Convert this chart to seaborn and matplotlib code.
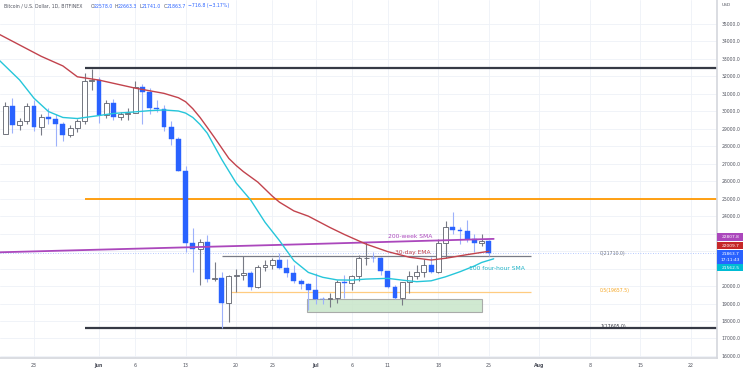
import numpy as np
import pandas as pd
import matplotlib
matplotlib.use("Agg")
import matplotlib.pyplot as plt
import matplotlib.dates as mdates
from matplotlib.patches import Rectangle
import seaborn as sns

# daily candles, BTC/USD Bitfinex
dates = pd.date_range("2022-05-19", "2022-07-25", freq="D")
opens = [28720, 30300, 29200, 29430, 30300, 29100, 29650, 29550, 29250, 28620, 29020, 29440, 31720,
         31790, 29800, 30460, 29700, 29860, 29910, 31370, 31130, 30200, 30110, 29080, 28420, 26580,
         22470, 22130, 22500, 20380, 20450, 19010, 20560, 20650, 20720, 19970, 21110, 21230, 21500,
         21030, 20730, 20280, 20100,
         19780, 19270, 19240, 19300, 20230, 20190, 20550, 21600, 21630, 21600, 20850, 19970, 19320,
         20210, 20570, 20830, 21190, 20780, 22450, 23390, 23230, 23160, 22700, 22460, 22578]
highs = [30550, 30780, 29630, 30480, 30670, 29830, 30200, 29850, 29390, 29220, 29550, 32200, 32400,
         31950, 30650, 30680, 29950, 30170, 31750, 31550, 31330, 30640, 30380, 29440, 28550, 26900,
         23350, 22700, 22950, 21350, 20780, 20650, 21000, 21700, 20880, 21200, 21520, 21600, 21870,
         21550, 21200, 20430, 20150,
         20750, 19400, 19620, 20330, 20660, 20620, 21800, 22500, 21950, 21650, 20870, 20050, 20260,
         20850, 21180, 21550, 21650, 22700, 23750, 24250, 23400, 23800, 23000, 22990, 22663.3]
lows = [28680, 28750, 28960, 29250, 28850, 28660, 29300, 28020, 28280, 28530, 28830, 29300, 31220,
        29350, 29600, 29500, 29480, 29500, 29890, 29250, 29850, 29950, 28860, 28100, 26580, 21950,
        20800, 20080, 20260, 20280, 17605, 17960, 19650, 20350, 19770, 19900, 20850, 20950, 20950,
        20500, 20180, 19850, 18640,
        18970, 18980, 18780, 19050, 19300, 19800, 20280, 21200, 21350, 20660, 19900, 19250, 18900,
        19620, 20390, 20500, 20760, 20760, 21600, 23000, 22380, 22500, 21950, 22280, 21741]
closes = [30300, 29200, 29430, 30300, 29100, 29650, 29550, 29250, 28620, 29020, 29440, 31720, 31790,
          29800, 30460, 29700, 29860, 29910, 31370, 31130, 30200, 30110, 29080, 28420, 26580, 22470,
          22130, 22500, 20380, 20450, 19010, 20560, 20650, 20720, 19970, 21110, 21230, 21500, 21030,
          20730, 20280, 20100, 19780,
          19270, 19240, 19300, 20230, 20190, 20550, 21600, 21630, 21600, 20850, 19970, 19320, 20210,
          20570, 20830, 21190, 20780, 22450, 23390, 23230, 23160, 22700, 22460, 22578, 21863.7]

# 30-day EMA
ema_dates = ["2022-05-18", "2022-05-21", "2022-05-24", "2022-05-27", "2022-05-29", "2022-06-01",
             "2022-06-06", "2022-06-10", "2022-06-12", "2022-06-13", "2022-06-14", "2022-06-15",
             "2022-06-16", "2022-06-17", "2022-06-18", "2022-06-19", "2022-06-20", "2022-06-21",
             "2022-06-23", "2022-06-25", "2022-06-26", "2022-06-28", "2022-06-30", "2022-07-03",
             "2022-07-05", "2022-07-08", "2022-07-11", "2022-07-14", "2022-07-17", "2022-07-19",
             "2022-07-22", "2022-07-25"]
ema_vals = [34450, 33800, 33150, 32600, 31980, 31790, 31330, 31030, 30780, 30550, 30150, 29650,
            29080, 28500, 27900, 27300, 26900, 26550, 25950, 25150, 24800, 24300, 24000, 23350,
            22950, 22400, 21970, 21650, 21490, 21590, 21800, 21990]

# 100 four-hour SMA
sma4h_dates = ["2022-05-18", "2022-05-21", "2022-05-23", "2022-05-25", "2022-05-27", "2022-05-29",
               "2022-06-01", "2022-06-03", "2022-06-06", "2022-06-08", "2022-06-10", "2022-06-12",
               "2022-06-13", "2022-06-14", "2022-06-15", "2022-06-16", "2022-06-18", "2022-06-20",
               "2022-06-22", "2022-06-24", "2022-06-26", "2022-06-28", "2022-06-30", "2022-07-02",
               "2022-07-04", "2022-07-06", "2022-07-08", "2022-07-11", "2022-07-13", "2022-07-15",
               "2022-07-17", "2022-07-19", "2022-07-21", "2022-07-23", "2022-07-24",
               "2022-07-25 16:00"]
sma4h_vals = [33000, 31800, 30750, 29990, 29650, 29590, 29760, 29880, 29970, 30040, 30080, 30020,
              29900, 29650, 29250, 28750, 27250, 25900, 24930, 23650, 22600, 21450, 20780, 20500,
              20350, 20340, 20400, 20440, 20340, 20250, 20300, 20530, 20820, 21150, 21350, 21560]

# 200-week SMA
sma200w_dates = ["2022-05-18", "2022-06-08", "2022-06-29", "2022-07-25 16:00"]
sma200w_vals = [21930, 22160, 22390, 22700]

fib_levels = [21710.0, 19657.5, 17605.0]
fib_labels = ["0(21710.0)", "0.5(19657.5)", "1(17605.0)"]
tag_texts = ["22807.8", "22009.7", "21863.7\n17:11:43", "21562.5"]
tick_dates = ["2022-05-23", "2022-06-01", "2022-06-06", "2022-06-13", "2022-06-20", "2022-06-25",
              "2022-07-01", "2022-07-06", "2022-07-11", "2022-07-18", "2022-07-25", "2022-08-01",
              "2022-08-08", "2022-08-15", "2022-08-22"]
tick_labels = ["23", "Jun", "6", "13", "20", "25", "Jul", "6", "11", "18", "25", "Aug", "8", "15", "22"]

BLUE = "#2962ff"
PURPLE = "#ab47bc"
RED = "#c2434d"
CYAN = "#26c6da"


def to_num(strs):
    return mdates.date2num(pd.to_datetime(strs, format="mixed"))


sns.set_theme(style="whitegrid", rc={"grid.color": "#eef1f7", "grid.linewidth": 0.6,
                                     "axes.edgecolor": "#d6d8de"})
plt.rcParams["font.family"] = ["DejaVu Sans"]

fig = plt.figure(figsize=(7.5, 3.75), dpi=100)
ax = fig.add_axes([0, 17 / 375, 717 / 750, 358 / 375])

x = mdates.date2num(dates)
o = np.array(opens, dtype=float)
h = np.array(highs, dtype=float)
l = np.array(lows, dtype=float)
c = np.array(closes, dtype=float)
up = c >= o
body = np.maximum(np.abs(c - o), 25)
bottom = np.minimum(o, c)

# levels / zones
d = lambda s: mdates.date2num(pd.Timestamp(s))
x_end = d("2022-05-23") + (717 - 34) / 7.22
ax.hlines([32500, 17605], d("2022-05-30"), x_end, color="#363a45", lw=1.6, zorder=2)
ax.hlines(25000, d("2022-05-30"), x_end, color="#ff9800", lw=1.3, zorder=2)
ax.hlines(fib_levels[0], d("2022-06-18"), d("2022-07-30 20:00"), color="#787b86", lw=0.9, zorder=2)
ax.hlines(fib_levels[1], d("2022-06-19"), d("2022-07-30 20:00"), color="#ffcc80", lw=0.9, zorder=2)
ax.add_patch(Rectangle((d("2022-06-29 18:00"), 18515), d("2022-07-24") - d("2022-06-29 18:00"), 745,
                       facecolor="#c8e6c9", edgecolor="#9e9e9e", lw=0.8, alpha=0.85, zorder=2))
ax.axhline(closes[-1], color=BLUE, lw=0.6, ls=(0, (1, 2)), alpha=0.45, zorder=1)

# candles
ax.vlines(x[up], l[up], h[up], color="#787b86", lw=0.8, zorder=3)
ax.vlines(x[~up], l[~up], h[~up], color="#9db1fb", lw=0.8, zorder=3)
ax.bar(x[up], body[up], bottom=bottom[up], width=0.68, color="white",
       edgecolor="#5d606b", linewidth=0.6, zorder=4)
ax.bar(x[~up], body[~up], bottom=bottom[~up], width=0.68, color=BLUE,
       edgecolor=BLUE, linewidth=0.3, zorder=4)

# moving averages
sns.lineplot(x=to_num(sma200w_dates), y=sma200w_vals, ax=ax, color=PURPLE, lw=1.3, zorder=5)
sns.lineplot(x=to_num(ema_dates), y=ema_vals, ax=ax, color=RED, lw=1.0, zorder=5)
sns.lineplot(x=to_num(sma4h_dates), y=sma4h_vals, ax=ax, color=CYAN, lw=1.0, zorder=5)

ax.text(d("2022-07-11"), 22860, "200-week SMA", color=PURPLE, fontsize=4.3, va="center", zorder=6)
ax.text(d("2022-07-12"), 21910, "30-day EMA", color=RED, fontsize=4.3, va="center", zorder=6)
ax.text(d("2022-07-22 06:00"), 21020, "100 four-hour SMA", color="#1fb3c7", fontsize=4.3,
        va="center", zorder=6)
for lvl, lab, col, yy in zip(fib_levels, fib_labels, ["#787b86", "#f5a623", "#363a45"],
                             [21870, 19770, 17660]):
    ax.text(d("2022-08-09 10:00"), yy, lab, color=col, fontsize=3.3, va="center", zorder=6)

# axes
x_start = d("2022-05-23") - 34 / 7.22
ax.set_xlim(x_start, x_end)
ax.set_ylim(15882, 36374)
yt = np.arange(16000, 35001, 1000)
ax.set_yticks(yt)
# 21000-23000 sit under the price tags
ax.set_yticklabels(["" if 21000 <= v <= 23000 else f"{v:.1f}" for v in yt])
ax.yaxis.tick_right()
ax.set_xticks(to_num(tick_dates))
ax.set_xticklabels(tick_labels)
for t in ax.get_xticklabels():
    if t.get_text() in ("Jun", "Jul", "Aug"):
        t.set_fontweight("bold")
ax.tick_params(axis="y", length=0, pad=3.5, labelsize=3.3, labelcolor="#50535e")
ax.tick_params(axis="x", length=0, pad=3.5, labelsize=3.4, labelcolor="#50535e")
for t in ax.get_yticklabels():
    t.set_horizontalalignment("left")
ax.spines["top"].set_visible(False)
ax.spines["left"].set_visible(False)
ax.set_xlabel("")
ax.set_ylabel("")
ax.grid(True)

# price tags on the right scale, stacked like the platform does
trans = ax.get_yaxis_transform()
px_per_k = 17.47
tag_cols = [PURPLE, "#c62828", BLUE, "#00bcd4"]
tag_centers = [22808, 22310, 21663, 21050]
tag_heights = [7.4, 7.4, 14.0, 6.8]
for txt, col, yc, hp in zip(tag_texts, tag_cols, tag_centers, tag_heights):
    hh = hp / px_per_k * 1000
    ax.add_patch(Rectangle((1.0, yc - hh / 2), 26.5 / 717, hh, transform=trans, facecolor=col,
                           edgecolor="none", clip_on=False, zorder=9))
    ax.text(1.0 + 13.25 / 717, yc, txt, transform=trans, color="white", fontsize=3.2,
            va="center", ha="center", clip_on=False, zorder=10, linespacing=1.45)
ax.text(1.007, 36100, "USD", transform=trans, color="#50535e", fontsize=3.2, va="center",
        ha="left", clip_on=False)

# header
fig.text(4 / 750, 1 - 6 / 375, "Bitcoin / U.S. Dollar, 1D, BITFINEX", color="#50535e",
         fontsize=3.3, va="center")
for px, letter, val in [(91, "O", "22578.0"), (115, "H", "22663.3"), (139, "L", "21741.0"),
                        (164, "C", "21863.7")]:
    fig.text(px / 750, 1 - 6 / 375, letter, color="#50535e", fontsize=3.3, va="center")
    fig.text((px + 3) / 750, 1 - 6 / 375, val, color=BLUE, fontsize=3.3, va="center")
fig.text(188 / 750, 1 - 6 / 375, "\u2212716.8 (\u22123.17%)", color=BLUE, fontsize=3.3, va="center")

fig.savefig("out.png", dpi=100)
